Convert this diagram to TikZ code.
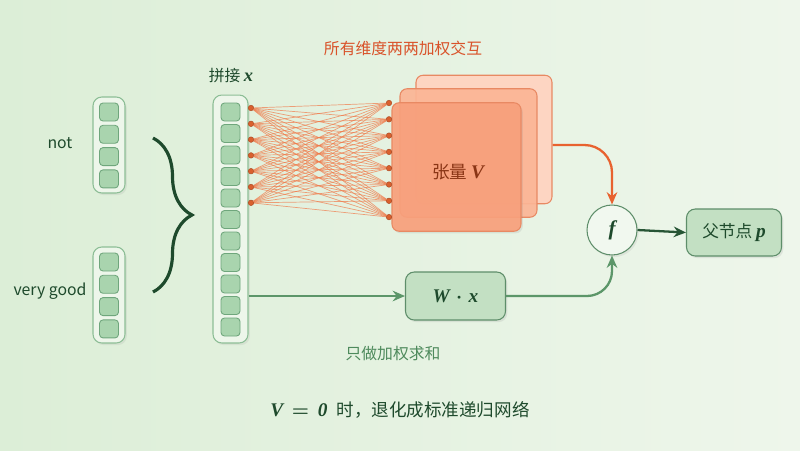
\documentclass[tikz,border=0pt]{standalone}
\usepackage{amsmath, amssymb}
\usepackage{fontspec}
\usepackage{tikz}
\usetikzlibrary{arrows.meta, calc, positioning, decorations.pathreplacing, shadows}
\newfontfamily\cjk{Noto Sans CJK SC}
\newfontfamily\bimath{Liberation Serif}
\newcommand{\bv}[1]{{\bimath\bfseries\itshape #1}}

\definecolor{bgleft}{HTML}{DCEED7}
\definecolor{bgright}{HTML}{EEF6EB}
\definecolor{cellfill}{HTML}{A9D4AE}
\definecolor{celldraw}{HTML}{6FA67C}
\definecolor{vecfill}{HTML}{EDF6EA}
\definecolor{vecdraw}{HTML}{8DBE96}
\definecolor{darkgreen}{HTML}{1E4A2C}
\definecolor{midgreen}{HTML}{5C9669}
\definecolor{textgreen}{HTML}{4E8A5C}
\definecolor{orangeline}{HTML}{F07A4A}
\definecolor{orangedot}{HTML}{D9602E}
\definecolor{orangearrow}{HTML}{E8622F}
\definecolor{sliceA}{HTML}{F9A07C}
\definecolor{sliceB}{HTML}{FBB595}
\definecolor{sliceC}{HTML}{FDD5C2}
\definecolor{slicedraw}{HTML}{E88963}
\definecolor{tensortext}{HTML}{8A3515}
\definecolor{toptext}{HTML}{D9532A}
\definecolor{nodefill}{HTML}{C3E0C3}
\definecolor{nodedraw}{HTML}{5E8E6A}
\definecolor{circfill}{HTML}{F1F8EF}

\begin{document}
\begin{tikzpicture}[
		x=0.02cm, y=-0.02cm,
		cell/.style={rectangle, rounded corners=2pt, draw=celldraw, fill=cellfill, line width=0.5pt, minimum width=0.38cm, minimum height=0.36cm, inner sep=0pt},
		vec/.style={rectangle, rounded corners=5pt, draw=vecdraw, fill=vecfill, line width=0.6pt, inner sep=0pt, drop shadow={opacity=0.12, shadow xshift=1pt, shadow yshift=-1.2pt}},
		dot/.style={circle, fill=orangedot, draw=orangedot!80!black, line width=0.3pt, inner sep=0pt, minimum size=0.11cm},
		slice/.style={rectangle, rounded corners=4pt, draw=slicedraw, line width=0.6pt, minimum height=2.57cm},
		box/.style={rectangle, rounded corners=5pt, draw=nodedraw, fill=nodefill, line width=0.6pt, text=darkgreen, drop shadow={opacity=0.15, shadow xshift=1pt, shadow yshift=-1.2pt}},
		wire/.style={draw=orangeline, line width=0.4pt, opacity=0.7},
		greenarrow/.style={-{Stealth[length=7pt, width=6pt]}, line width=1.3pt, draw=midgreen},
		label/.style={font=\cjk\fontsize{9}{11}\selectfont}
		]

		% --- fond ---
		\useasboundingbox (0,0) rectangle (800,450);
		\shade[left color=bgleft, right color=bgright] (0,0) rectangle (800,450);

		% --- vecteurs d'entrée ---
		\node[label, text=darkgreen] (lblnot) at (60,143) {not};
		\node[label, text=darkgreen] (lblvg) at (50,291) {very good};
		\node[vec, minimum width=0.64cm, minimum height=1.92cm] (vnot) at (109,145) {};
		\node[vec, minimum width=0.64cm, minimum height=1.92cm] (vgood) at (109,295) {};
		\foreach \i in {1,...,4} {
			\node[cell] (a\i) at (109, 89.7+22.3*\i) {};
			\node[cell] (b\i) at (109, 239.7+22.3*\i) {};
		}

		% accolade
		\draw[decorate, decoration={brace, amplitude=0.78cm, aspect=0.5}, line width=1.8pt, draw=darkgreen] (153,138) -- (153,292);

		% --- vecteur concaténé ---
		\node[label, text=darkgreen] (lblx) at (231,76) {拼接 {\fontsize{10.5}{12}\selectfont\bv{x}}};
		\node[vec, minimum width=0.7cm, minimum height=4.96cm] (xcat) at (230.5,219) {};
		\foreach \i in {1,...,11}
			\node[cell] (c\i) at (230.5, 90.5+21.5*\i) {};

		% --- tenseur V ---
		\node[slice, fill=sliceC, minimum width=2.72cm] (vback) at (484,139.5) {};
		\node[slice, fill=sliceB, fill opacity=0.92, minimum width=2.74cm] (vmid) at (468.5,153) {};
		\node[slice, fill=sliceA, fill opacity=0.92, minimum width=2.58cm, drop shadow={opacity=0.15, shadow xshift=1pt, shadow yshift=-1.2pt}] (vfront) at (456.5,167) {};
		\node[label, text=tensortext, font=\cjk\fontsize{10}{12}\selectfont] (lblv) at (458,172) {张量 {\fontsize{11}{12}\selectfont\bv{V}}};
		\node[label, text=toptext] (lbltop) at (403,48) {所有维度两两加权交互};

		% points et fils
		\foreach \i in {1,...,7}
			\node[dot] (l\i) at (251, 92.2+15.8*\i) {};
		\foreach \j in {1,...,8}
			\node[dot] (r\j) at (389, 86.7+16.3*\j) {};
		\foreach \i in {1,...,7}
			\foreach \j in {1,...,8}
				\draw[wire] (l\i) -- (r\j);

		% --- combinaison ---
		\node[circle, draw=nodedraw, fill=circfill, line width=0.6pt, minimum size=1cm, inner sep=0pt, text=darkgreen, font=\fontsize{12}{14}\selectfont, drop shadow={opacity=0.12, shadow xshift=1pt, shadow yshift=-1.2pt}] (f) at (612,230) {\bv{f}};
		\node[box, minimum width=1.9cm, minimum height=0.94cm, font=\cjk\fontsize{9.5}{11}\selectfont] (p) at (734,232.5) {父节点 {\fontsize{11}{12}\selectfont\bv{p}}};
		\node[box, minimum width=2cm, minimum height=0.96cm, font=\fontsize{11}{13}\selectfont] (wx) at (455.5,296) {\bv{W} $\boldsymbol{\cdot}$ \bv{x}};
		\node[label, text=textgreen] (lblsum) at (393,354) {只做加权求和};
		\node[label, text=darkgreen, font=\cjk\fontsize{10}{12}\selectfont] (lblnote) at (400,410) {{\fontsize{11}{12}\selectfont\bv{V}\hspace{5pt}$\boldsymbol{=}$\hspace{5pt}\bv{0}}\hspace{5pt}时，退化成标准递归网络};

		% flèches
		\draw[-{Stealth[length=7pt, width=6pt]}, line width=1.3pt, draw=orangearrow, rounded corners=0.55cm] (vback.east |- 0,145) -| (f.north);
		\draw[greenarrow] (xcat.east |- wx.west) -- (wx.west);
		\draw[greenarrow, rounded corners=0.5cm] (wx.east) -| (f.south);
		\draw[greenarrow, draw=darkgreen!85!midgreen] (f.east) -- (p.west);

	\end{tikzpicture}
\end{document}
